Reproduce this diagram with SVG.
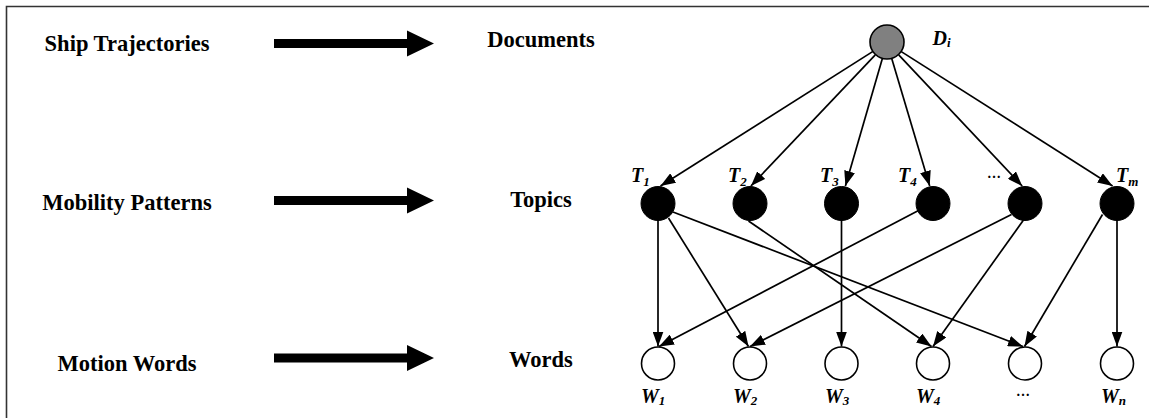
<svg xmlns="http://www.w3.org/2000/svg" width="1149" height="418" viewBox="0 0 1149 418">
<style>
.lbl{font-family:"Liberation Serif","Times New Roman",serif;font-weight:bold;font-size:22.5px;fill:#000;text-anchor:middle}
.var{font-family:"Liberation Serif","Times New Roman",serif;font-weight:bold;font-style:italic;font-size:20px;fill:#000}
.sub{font-size:13px}
.edge{stroke:#000;stroke-width:1.7;fill:none;marker-end:url(#ah)}
.topic{fill:#000;stroke:#000;stroke-width:1}
.word{fill:#fff;stroke:#000;stroke-width:1.6}
.doc{fill:#808080;stroke:#000;stroke-width:1.6}
.blk{fill:#000}
</style>
<defs>
<marker id="ah" markerUnits="userSpaceOnUse" markerWidth="15" markerHeight="11" refX="15" refY="5.5" orient="auto">
<path d="M0,0 L15,5.5 L0,11 z" fill="#000"/>
</marker>
</defs>
<rect width="1149" height="418" fill="#fff"/>
<path d="M6.5,418 V6.5 H1149" fill="none" stroke="#333" stroke-width="1.6"/>

<g id="left-labels">
<text class="lbl" x="127" y="51">Ship Trajectories</text>
<text class="lbl" x="127" y="210">Mobility Patterns</text>
<text class="lbl" x="127" y="370.5">Motion Words</text>
</g>
<g id="block-arrows">
<polygon class="blk" points="274,39 407,39 407,30.5 434,43.5 407,56.5 407,48 274,48"/>
<polygon class="blk" points="274,196 407,196 407,187.5 434,200.5 407,213.5 407,205 274,205"/>
<polygon class="blk" points="274,353.5 407,353.5 407,345 434,358 407,371 407,362.5 274,362.5"/>
</g>
<g id="mid-labels">
<text class="lbl" x="541" y="46.5">Documents</text>
<text class="lbl" x="541" y="206.5">Topics</text>
<text class="lbl" x="541" y="366.5">Words</text>
</g>

<g id="connectors">
<line class="edge" x1="872.6" y1="51.6" x2="660.5" y2="186"/>
<line class="edge" x1="875.3" y1="54.8" x2="750.9" y2="186"/>
<line class="edge" x1="882.3" y1="58.8" x2="845.4" y2="186"/>
<line class="edge" x1="891.8" y1="58.8" x2="929.7" y2="186"/>
<line class="edge" x1="898.7" y1="54.9" x2="1022.2" y2="186"/>
<line class="edge" x1="901.3" y1="51.6" x2="1112.6" y2="186"/>

<line class="edge" x1="658" y1="220" x2="658" y2="346.5"/>
<line class="edge" x1="668.5" y1="218" x2="748.5" y2="346.5"/>
<line class="edge" x1="673" y1="212" x2="1023" y2="346.5"/>
<line class="edge" x1="748.5" y1="221" x2="931.5" y2="346.5"/>
<line class="edge" x1="841.5" y1="220" x2="841.5" y2="346.5"/>
<line class="edge" x1="918.5" y1="210.5" x2="659" y2="346.5"/>
<line class="edge" x1="1011.5" y1="214.5" x2="750" y2="346.5"/>
<line class="edge" x1="1023.5" y1="220" x2="933" y2="346.5"/>
<line class="edge" x1="1102.5" y1="214.5" x2="1024.5" y2="346.5"/>
<line class="edge" x1="1117" y1="220" x2="1117" y2="346.5"/>
</g>

<g id="node-D">
<circle class="doc" cx="887" cy="42" r="17"/>
<text class="var" x="932.5" y="45">D<tspan class="sub" dy="2">i</tspan></text>
</g>

<g id="node-T1"><circle class="topic" cx="658" cy="203.5" r="17"/><text class="var" x="631" y="182">T<tspan class="sub" dy="4">1</tspan></text></g>
<g id="node-T2"><circle class="topic" cx="750" cy="203.5" r="17"/><text class="var" x="728" y="182">T<tspan class="sub" dy="4">2</tspan></text></g>
<g id="node-T3"><circle class="topic" cx="841.5" cy="203.5" r="17"/><text class="var" x="820" y="182">T<tspan class="sub" dy="4">3</tspan></text></g>
<g id="node-T4"><circle class="topic" cx="933" cy="203.5" r="17"/><text class="var" x="898" y="182">T<tspan class="sub" dy="4">4</tspan></text></g>
<g id="node-T5"><circle class="topic" cx="1025" cy="203.5" r="17"/><text class="var" x="987" y="178" style="font-size:14px;font-style:normal">…</text></g>
<g id="node-Tm"><circle class="topic" cx="1117" cy="203.5" r="17"/><text class="var" x="1116" y="182">T<tspan class="sub" dy="4">m</tspan></text></g>

<g id="node-W1"><circle class="word" cx="658" cy="363.5" r="16.5"/><text class="var" x="641" y="403">W<tspan class="sub" dy="2">1</tspan></text></g>
<g id="node-W2"><circle class="word" cx="750" cy="363.5" r="16.5"/><text class="var" x="733" y="403">W<tspan class="sub" dy="2">2</tspan></text></g>
<g id="node-W3"><circle class="word" cx="841.5" cy="363.5" r="16.5"/><text class="var" x="825" y="403">W<tspan class="sub" dy="2">3</tspan></text></g>
<g id="node-W4"><circle class="word" cx="933" cy="363.5" r="16.5"/><text class="var" x="916" y="403">W<tspan class="sub" dy="2">4</tspan></text></g>
<g id="node-W5"><circle class="word" cx="1025" cy="363.5" r="16.5"/><text class="var" x="1016" y="396" style="font-size:14px;font-style:normal">…</text></g>
<g id="node-Wn"><circle class="word" cx="1117" cy="363.5" r="16.5"/><text class="var" x="1101" y="403">W<tspan class="sub" dy="2">n</tspan></text></g>
</svg>
